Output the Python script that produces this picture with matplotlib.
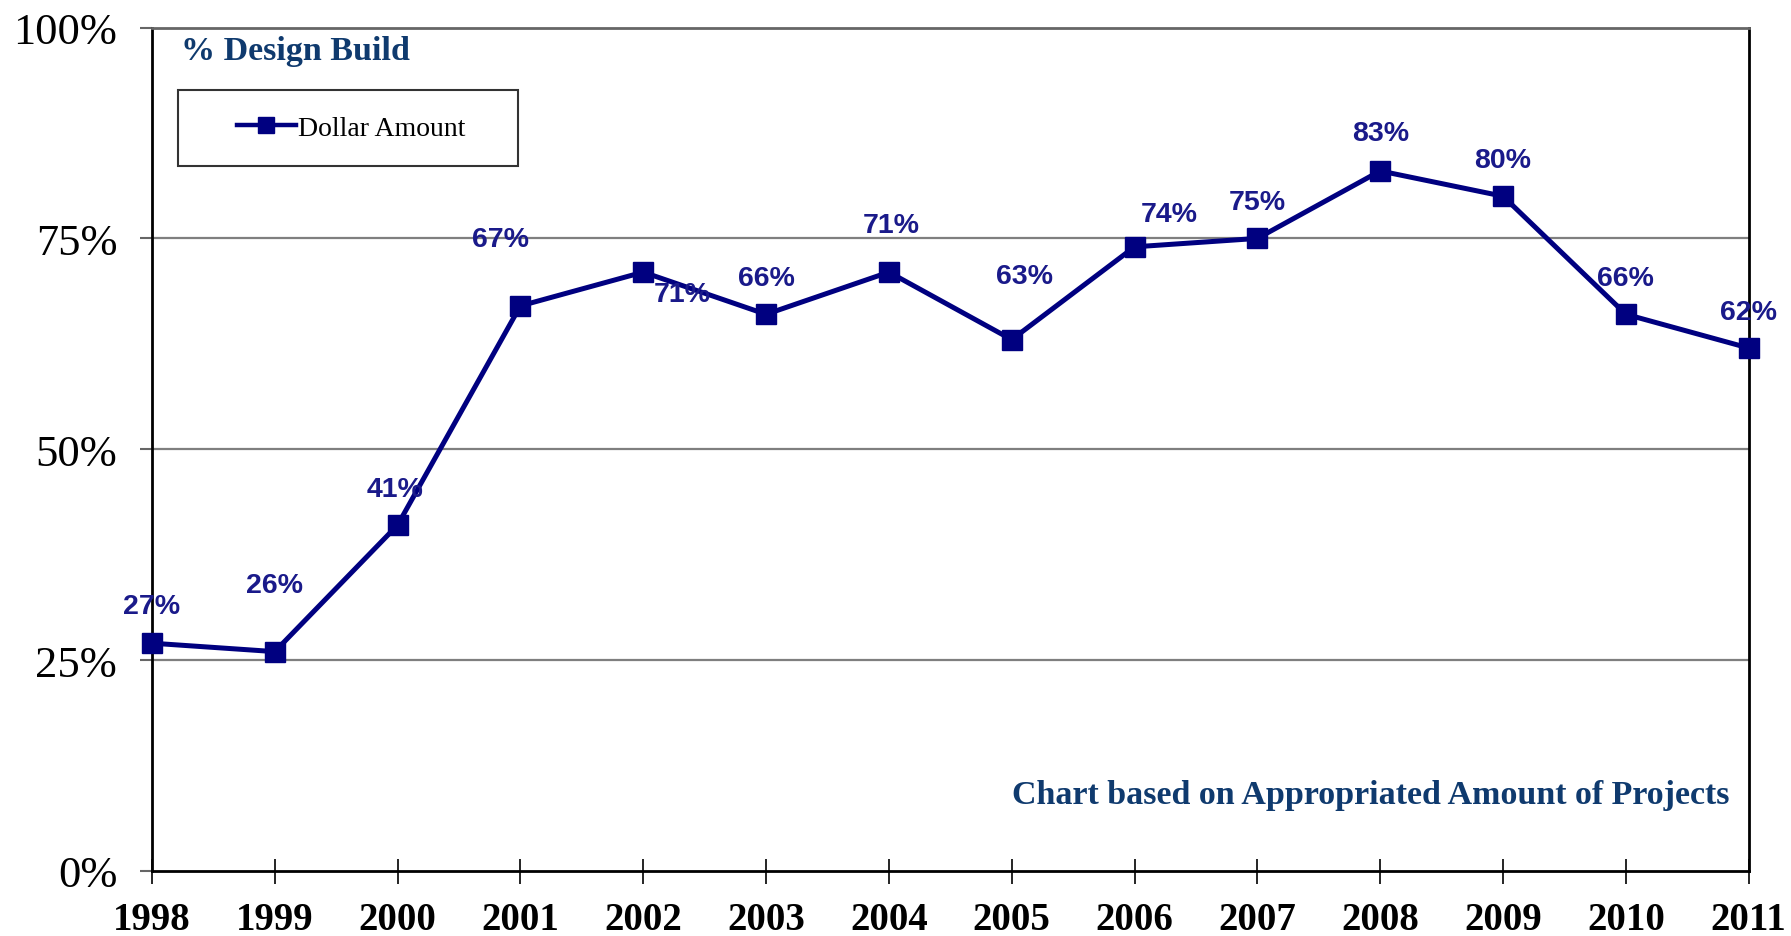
import matplotlib.pyplot as plt
from matplotlib.patches import Rectangle

years = [1998, 1999, 2000, 2001, 2002, 2003, 2004, 2005, 2006, 2007, 2008, 2009, 2010, 2011]
dollar_pct = [27, 26, 41, 67, 71, 66, 71, 63, 74, 75, 83, 80, 66, 62]
y_ticks = [0, 25, 50, 75, 100]
y_labels = ['0%', '25%', '50%', '75%', '100%']

# label offsets (points), copied roughly off the original
offsets = [(0, 27), (0, 48), (-2, 26), (-14, 48), (28, -16), (0, 26), (2, 34),
           (9, 46), (25, 24), (0, 26), (0, 27), (0, 26), (0, 26), (0, 26)]

navy = '#000080'
title_blue = '#0f3a6e'
serif = ['Liberation Serif', 'DejaVu Serif']

fig = plt.figure(figsize=(17.91, 9.37), dpi=100)
ax = fig.add_axes([0.0848, 0.0695, 0.8916, 0.9000])

line, = ax.plot(years, dollar_pct, color=navy, lw=3.6, marker='s', ms=15,
                label='Dollar Amount', clip_on=False, zorder=5)

for x, v, (dx, dy) in zip(years, dollar_pct, offsets):
    ax.annotate(f'{v}%', (x, v), xytext=(dx, dy), textcoords='offset points',
                ha='center', va='center', fontsize=20.5, fontweight='bold',
                family=['Liberation Sans', 'DejaVu Sans'], color='#1a1a8a', zorder=6)

ax.set_xlim(1998, 2011)
ax.set_ylim(0, 100)
ax.set_xticks(years)
ax.set_xticklabels([str(y) for y in years], fontsize=28, fontweight='bold', family=serif)
ax.set_yticks(y_ticks)
ax.set_yticklabels(y_labels, fontsize=32, family=serif)
ax.tick_params(axis='x', direction='inout', length=18, width=1.2, pad=13)
ax.tick_params(axis='y', direction='out', length=9, width=1.5, color='#666666', pad=16)

for g in [25, 50, 75]:
    ax.axhline(g, color='#7f7f7f', lw=1.6, zorder=1)

for side in ['left', 'bottom', 'right']:
    ax.spines[side].set_linewidth(2)
    ax.spines[side].set_color('black')
ax.spines['top'].set_linewidth(2)
ax.spines['top'].set_color('#666666')

ax.text(0.018, 0.973, '% Design Build', transform=ax.transAxes, ha='left', va='center',
        fontsize=24.5, fontweight='bold', family=serif, color=title_blue)

ax.text(0.988, 0.091, 'Chart based on Appropriated Amount of Projects', transform=ax.transAxes,
        ha='right', va='center', fontsize=24.5, fontweight='bold', family=serif, color=title_blue)

ax.add_patch(Rectangle((0.0165, 0.836), 0.2125, 0.0895, transform=ax.transAxes,
                       fill=False, edgecolor='#333333', lw=1.5, zorder=7))
leg = ax.legend(handles=[line], loc='center', bbox_to_anchor=(0.125, 0.881), frameon=False,
                prop={'family': serif, 'size': 20}, handlelength=2.1, handletextpad=0.1,
                markerscale=0.75)
for h in leg.legend_handles:
    h.set_linewidth(3.2)

fig.savefig('out.png', dpi=100)
